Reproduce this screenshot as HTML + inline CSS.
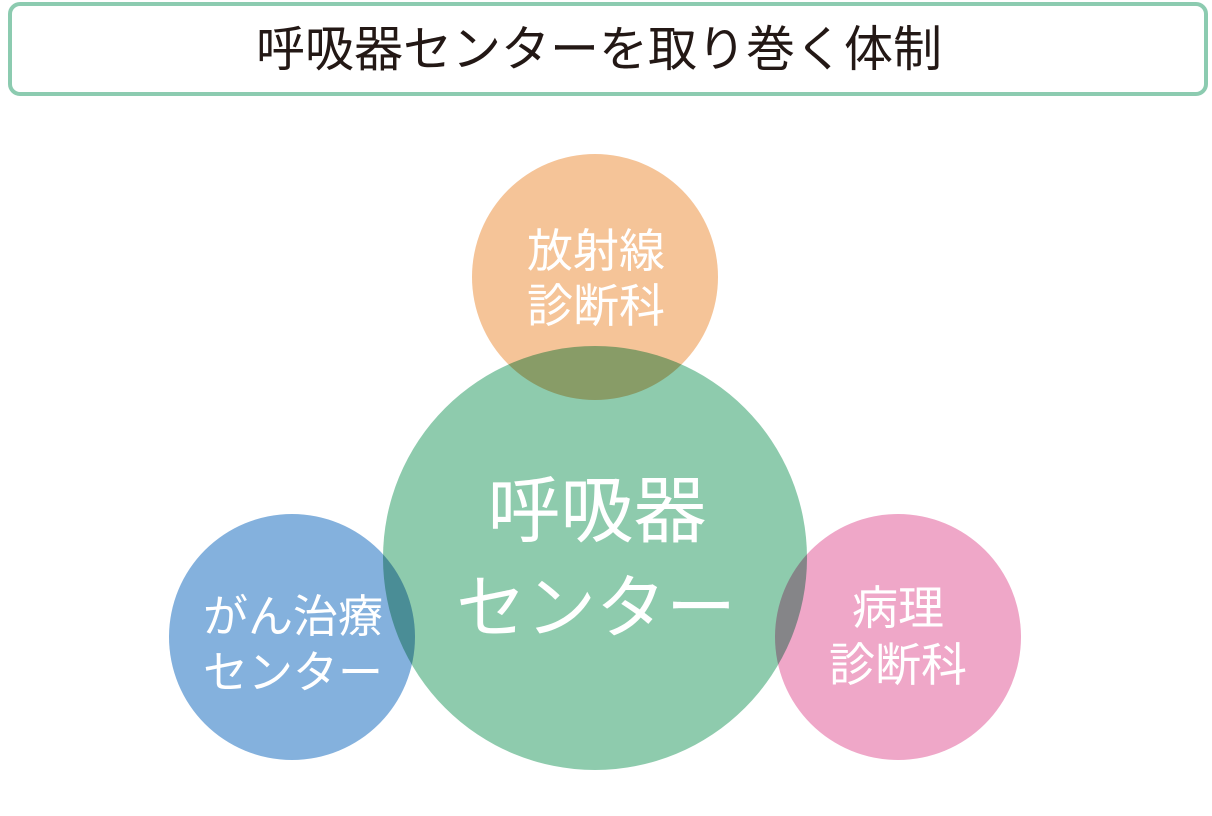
<!DOCTYPE html>
<html><head><meta charset="utf-8"><style>
body{margin:0;background:#fff;}
svg{display:block;font-family:"Liberation Sans","Noto Sans CJK JP",sans-serif;}
</style></head><body>
<svg width="1212" height="816" viewBox="0 0 1212 816" xmlns="http://www.w3.org/2000/svg">
<rect x="10" y="4" width="1196" height="90" rx="10" fill="#fff" stroke="#8ccbb0" stroke-width="4"/>
<text x="599" y="66" font-size="49" text-anchor="middle" fill="#231815">呼吸器センターを取り巻く体制</text>
<circle cx="595" cy="558" r="212" fill="#8ecbad"/>
<circle cx="595" cy="277" r="123" fill="#f5c498" style="mix-blend-mode:multiply"/>
<circle cx="292" cy="637" r="123" fill="#84b1dd" style="mix-blend-mode:multiply"/>
<circle cx="898" cy="637" r="123" fill="#efa7c8" style="mix-blend-mode:multiply"/>
<g fill="#fff" text-anchor="middle">
<text x="596" y="267" font-size="46">放射線</text>
<text x="596" y="322" font-size="46">診断科</text>
<text x="597" y="536" font-size="73">呼吸器</text>
<text x="596" y="632" font-size="70">センター</text>
<text x="293" y="632" font-size="45">がん治療</text>
<text x="293" y="688" font-size="45">センター</text>
<text x="898" y="624" font-size="46">病理</text>
<text x="898" y="681" font-size="46">診断科</text>
</g>
</svg>
</body></html>
